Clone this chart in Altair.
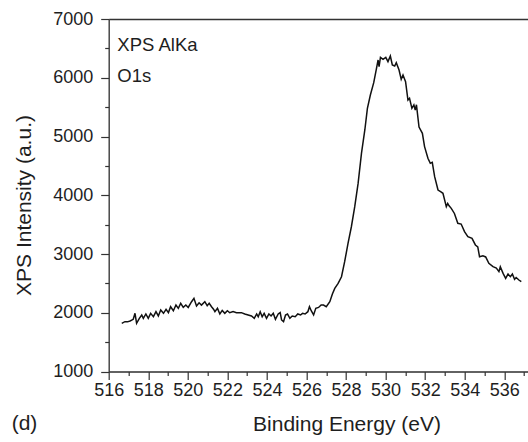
import altair as alt
import pandas as pd

# ---- data (binding energy in eV, intensity in a.u.) ----
be = [516.66, 516.82, 516.95, 517.08, 517.24, 517.33, 517.41, 517.55, 517.67, 517.75,
      517.88, 518.00, 518.12, 518.26, 518.39, 518.51, 518.63, 518.77, 518.90, 519.02,
      519.13, 519.27, 519.40, 519.52, 519.64, 519.77, 519.90, 520.02, 520.19, 520.31,
      520.44, 520.57, 520.69, 520.86, 520.98, 521.08, 521.20, 521.30, 521.37, 521.50,
      521.62, 521.74, 521.87, 522.00, 522.12, 522.29, 522.46, 522.71, 522.88, 523.05,
      523.22, 523.36, 523.48, 523.56, 523.66, 523.76, 523.86, 523.98, 524.10, 524.21,
      524.32, 524.43, 524.57, 524.67, 524.74, 524.84, 524.94, 525.04, 525.16, 525.28,
      525.43, 525.56, 525.70, 525.80, 525.93, 526.07, 526.15, 526.24, 526.36, 526.47,
      526.61, 526.74, 526.86, 527.00, 527.18, 527.31, 527.43, 527.60, 527.77, 527.93,
      528.10, 528.27, 528.44, 528.61, 528.78, 528.95, 529.08, 529.23, 529.40, 529.53,
      529.62, 529.67, 529.74, 529.87, 530.01, 530.12, 530.24, 530.34, 530.46, 530.54,
      530.68, 530.79, 530.88, 531.01, 531.13, 531.21, 531.33, 531.43, 531.50, 531.56,
      531.69, 531.86, 531.97, 532.14, 532.26, 532.36, 532.48, 532.65, 532.78, 532.90,
      533.07, 533.14, 533.21, 533.32, 533.48, 533.65, 533.82, 533.99, 534.16, 534.37,
      534.54, 534.66, 534.75, 534.92, 535.06, 535.22, 535.43, 535.60, 535.73, 535.80,
      535.94, 536.07, 536.19, 536.31, 536.41, 536.52, 536.60, 536.74, 536.86]
intensity = [1820, 1848, 1845, 1860, 1888, 1990, 1820, 1905, 1962, 1905,
             1979, 1905, 1990, 1933, 2018, 1945, 2047, 1990, 2058, 2002,
             2103, 2035, 2132, 2075, 2160, 2092, 2132, 2090, 2188, 2245,
             2115, 2170, 2130, 2188, 2120, 2160, 2103, 2060, 2018, 2075,
             1979, 2040, 1990, 2035, 2000, 2020, 2002, 2002, 1979, 1962,
             1945, 1905, 1979, 1933, 2018, 1933, 1990, 1905, 1979, 1945,
             1990, 1888, 1979, 2002, 1877, 1848, 1962, 1979, 1905, 1945,
             1933, 1979, 1962, 1990, 1979, 2018, 2103, 2035, 1962, 2075,
             2090, 2132, 2132, 2104, 2188, 2319, 2415, 2500, 2613, 2869,
             3182, 3464, 3805, 4202, 4714, 5111, 5480, 5707, 5916, 6143,
             6302, 6189, 6347, 6313, 6347, 6274, 6370, 6217, 6200, 6256,
             6132, 5973, 6047, 5933, 5621, 5650, 5480, 5537, 5450, 5540,
             5160, 5054, 4828, 4629, 4544, 4560, 4317, 4089, 4060, 4033,
             3805, 3860, 3820, 3777, 3690, 3522, 3510, 3380, 3295, 3267,
             3154, 3120, 2954, 2970, 2950, 2841, 2784, 2760, 2700, 2784,
             2670, 2585, 2659, 2614, 2659, 2568, 2600, 2557, 2528]

x_major = [516, 518, 520, 522, 524, 526, 528, 530, 532, 534, 536]
x_minor = [517, 519, 521, 523, 525, 527, 529, 531, 533, 535, 537]
y_major = [1000, 2000, 3000, 4000, 5000, 6000, 7000]
y_minor = [1500, 2500, 3500, 4500, 5500, 6500]
x_title = "Binding Energy (eV)"
y_title = "XPS Intensity (a.u.)"
notes = ["XPS AlKa", "O1s"]
panel = "(d)"

df = pd.DataFrame({"be": be, "counts": intensity})

FONT = "Liberation Sans"
AX = "#333333"
TXT = "#1e1e1e"
W, H = 419.3, 352.5

xs = alt.Scale(domain=[516, 537.2], nice=False, zero=False)
ys = alt.Scale(domain=[1000, 7000], nice=False, zero=False)

base = alt.Chart(df)

line = base.mark_line(color="#111111", strokeWidth=1.5).encode(
    x=alt.X("be:Q", scale=xs, axis=alt.Axis(
        orient="bottom", values=x_major, tickSize=8, tickWidth=1.2, tickColor=AX,
        domainColor=AX, domainWidth=1.3, grid=False,
        labelFont=FONT, labelFontSize=18, labelColor=TXT, labelPadding=2,
        labelFlush=False, labelOverlap=False, labelBound=False, format="d",
        title=x_title, titleFont=FONT, titleFontSize=21, titleFontWeight="normal",
        titleColor=TXT, titleX=237.8, titleY=58.5, titleAlign="center",
        titleBaseline="alphabetic")),
    y=alt.Y("counts:Q", scale=ys, axis=alt.Axis(
        orient="left", values=y_major, tickSize=8, tickWidth=1.2, tickColor=AX,
        domainColor=AX, domainWidth=1.3, grid=False,
        labelFont=FONT, labelFontSize=18, labelColor=TXT, labelPadding=8,
        labelFlush=False, labelOverlap=False, labelBound=False, format="d",
        title=y_title, titleFont=FONT, titleFontSize=21, titleFontWeight="normal",
        titleColor=TXT, titleAngle=270, titleX=-78.7, titleY=186,
        titleAlign="center", titleBaseline="alphabetic")),
)

minor = base.mark_line(opacity=0).encode(
    x=alt.X("be:Q", scale=xs, axis=alt.Axis(
        orient="bottom", values=x_minor, tickSize=4, tickWidth=1.2, tickColor=AX,
        domain=False, labels=False, grid=False, title=None)),
    y=alt.Y("counts:Q", scale=ys, axis=alt.Axis(
        orient="left", values=y_minor, tickSize=4, tickWidth=1.2, tickColor=AX,
        domain=False, labels=False, grid=False, title=None)),
)

topframe = base.mark_line(opacity=0).encode(
    x=alt.X("be:Q", scale=xs, axis=alt.Axis(
        orient="top", ticks=False, labels=False, domain=True, domainColor=AX,
        domainWidth=1.3, grid=False, title=None)),
    y=alt.Y("counts:Q", scale=ys, axis=None),
)

note1 = alt.Chart(pd.DataFrame({"t": [notes[0]]})).mark_text(
    font=FONT, fontSize=18.5, color=TXT, align="left", baseline="alphabetic"
).encode(text="t:N", x=alt.value(8.6), y=alt.value(31.7))
note2 = alt.Chart(pd.DataFrame({"t": [notes[1]]})).mark_text(
    font=FONT, fontSize=18.5, color=TXT, align="left", baseline="alphabetic"
).encode(text="t:N", x=alt.value(8.6), y=alt.value(62.7))
panel_lbl = alt.Chart(pd.DataFrame({"t": [panel]})).mark_text(
    font=FONT, fontSize=21, color=TXT, align="left", baseline="alphabetic"
).encode(text="t:N", x=alt.value(-97), y=alt.value(411))

chart = alt.layer(line, minor, topframe, note1, note2, panel_lbl).resolve_axis(
    x="independent", y="independent"
).properties(
    width=W, height=H,
    autosize=alt.AutoSizeParams(type="none"),
    padding={"left": 108.7, "top": 19, "right": 0, "bottom": 70.5},
).configure_view(stroke=None).configure(background="white")

chart.save("out.html", embed_options={"renderer": "svg", "actions": False})
